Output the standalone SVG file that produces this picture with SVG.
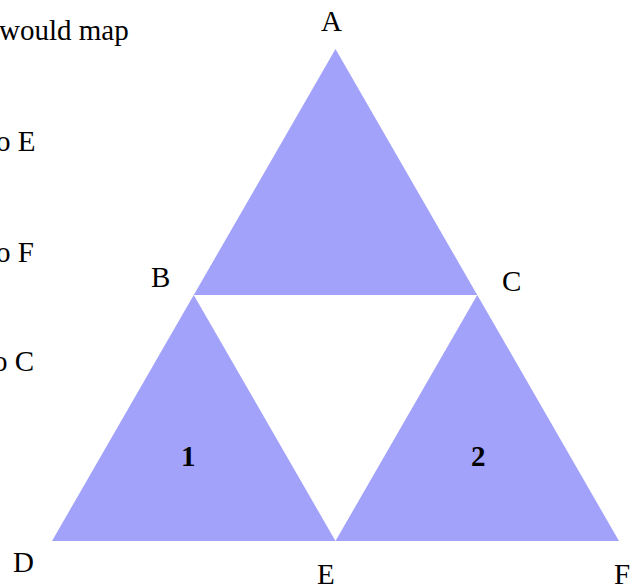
<svg xmlns="http://www.w3.org/2000/svg" width="635" height="588" viewBox="0 0 635 588">
<style>
.tri{fill:#a2a2fa;stroke:none}
text{font-family:'Liberation Serif','Times New Roman',Times,serif;font-size:29px;fill:#000}
.num{font-weight:bold}
</style>
<rect width="635" height="588" fill="#fff"/>
<g id="text-left">
<text x="-1" y="40">would map</text>
<text x="-4" y="151">o E</text>
<text x="-4" y="262">o F</text>
<text x="-7" y="371">o C</text>
</g>
<g id="triangle-top">
<polygon class="tri" points="335.5,49 477.25,295 193.75,295"/>
</g>
<g id="triangle-1">
<polygon class="tri" points="193.75,295 335.5,541 52,541"/>
<text class="num" x="181" y="466">1</text>
</g>
<g id="triangle-2">
<polygon class="tri" points="477.25,295 619,541 335.5,541"/>
<text class="num" x="471" y="466">2</text>
</g>
<g id="labels">
<text x="321" y="31">A</text>
<text x="151" y="287">B</text>
<text x="502" y="291">C</text>
<text x="13" y="572">D</text>
<text x="317" y="584">E</text>
<text x="614" y="584">F</text>
</g>
</svg>
